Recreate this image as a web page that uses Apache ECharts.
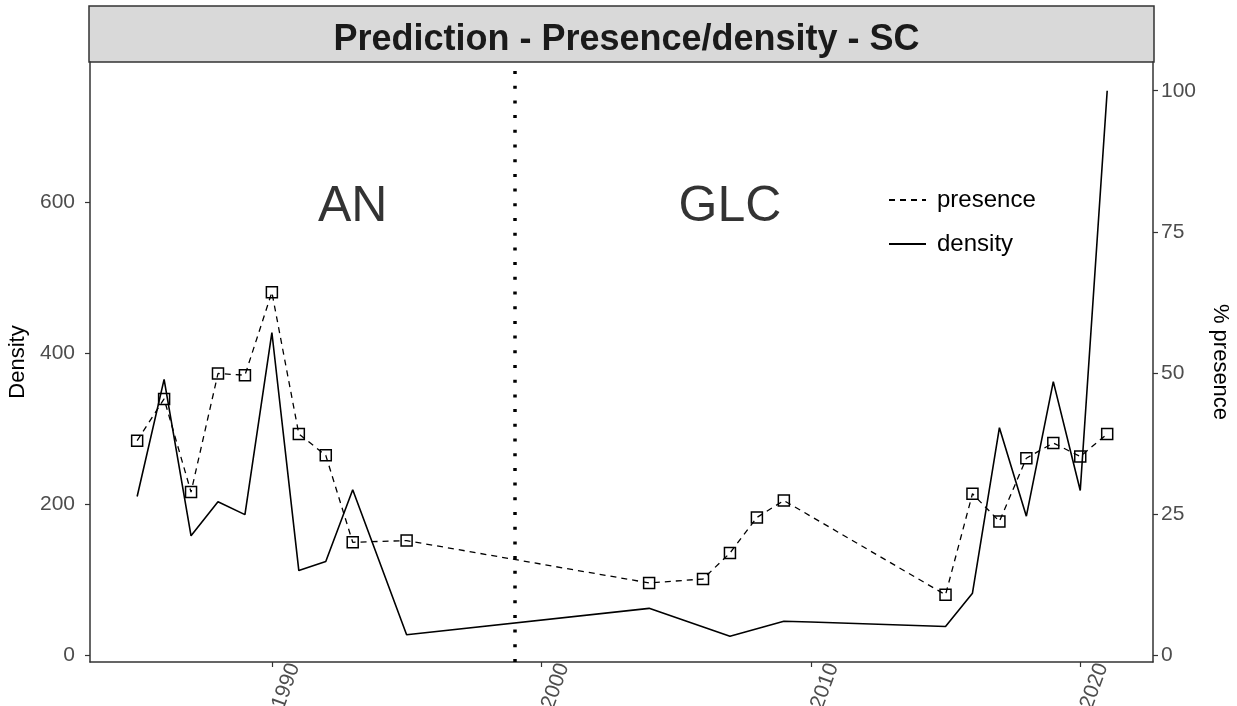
<!DOCTYPE html>
<html>
<head>
<meta charset="utf-8">
<title>Prediction - Presence/density - SC</title>
<script src="https://cdn.jsdelivr.net/npm/echarts@6/dist/echarts.min.js"></script>
<style>
  html, body { margin: 0; padding: 0; background: #fff; }
  #chart { width: 1237px; height: 706px; }
</style>
</head>
<body>
<div id="chart"></div>
<script>
// Survey years and values
const presenceYears = [1985, 1986, 1987, 1988, 1989, 1990, 1991, 1992, 1993, 1995,
                       2004, 2006, 2007, 2008, 2009,
                       2015, 2016, 2017, 2018, 2019, 2020, 2021];
const presenceValues = [38.0, 45.4, 28.9, 49.9, 49.6, 64.3, 39.2, 35.4, 20.0, 20.3,
                        12.8, 13.5, 18.1, 24.4, 27.4,
                        10.7, 28.6, 23.7, 34.9, 37.6, 35.2, 39.2];

const densityYears = [1985, 1986, 1987, 1988, 1989, 1990, 1991, 1992, 1993, 1995,
                      2004, 2007, 2009, 2010,
                      2015, 2016, 2017, 2018, 2019, 2020, 2021];
const densityValues = [210, 365, 158, 203, 186, 427, 112, 124, 219, 27,
                       62, 25, 45, 44,
                       38, 82, 301, 184, 362, 218, 747];

// Period annotations and the break between them
const periodLabels = ['AN', 'GLC'];
const periodX = [1993, 2007];
const periodY = [600, 600];
const periodBreak = 1999;

// Tick labels
const xTicks = [1990, 2000, 2010, 2020];
const densityTicks = [0, 200, 400, 600];
const presenceTicks = [0, 25, 50, 75, 100];

// Secondary axis: 100 % presence corresponds to the maximum density
const scaleK = Math.max(...densityValues) / 100;
const leftMin = -9, leftMax = 785;

const FONT = "'Liberation Sans', Arial, sans-serif";
const AXIS_COL = '#333333';
const TICK_TXT = '#4D4D4D';

const presenceData = presenceYears.map((y, i) => [y, presenceValues[i]]);
const densityData = densityYears.map((y, i) => [y, densityValues[i]]);
const periodData = periodLabels.map((t, i) => [periodX[i], periodY[i], t]);

const chart = echarts.init(document.getElementById('chart'), null, { renderer: 'canvas' });

chart.setOption({
  animation: false,
  backgroundColor: '#ffffff',
  textStyle: { fontFamily: FONT },
  graphic: [{
    type: 'rect',
    z: 0,
    shape: { x: 89, y: 6, width: 1065, height: 56 },
    style: { fill: '#D9D9D9', stroke: '#333333', lineWidth: 1.5 }
  }],
  title: {
    text: 'Prediction - Presence/density - SC',
    left: 621.5,
    top: 17,
    textAlign: 'center',
    z: 10,
    textStyle: { fontFamily: FONT, fontSize: 36, fontWeight: 'bold', color: '#1A1A1A' }
  },
  legend: {
    orient: 'vertical',
    left: 883,
    top: 183,
    itemWidth: 37,
    itemHeight: 14,
    itemGap: 20,
    itemStyle: { opacity: 0 },
    textStyle: { fontFamily: FONT, fontSize: 24, color: '#000', padding: [0, 0, 0, 6] },
    data: ['presence', 'density']
  },
  grid: { left: 90, right: 84, top: 62, bottom: 44, containLabel: false, outerBoundsMode: 'none' },
  xAxis: {
    type: 'value',
    min: 1983.25,
    max: 2022.7,
    splitLine: { show: false },
    axisLine: { show: true, onZero: false, lineStyle: { color: AXIS_COL, width: 1.5 } },
    axisTick: { show: true, length: 5, customValues: xTicks, lineStyle: { color: AXIS_COL, width: 1.2 } },
    axisLabel: {
      customValues: xTicks,
      rotate: 70,
      fontSize: 21,
      color: TICK_TXT,
      fontFamily: FONT,
      margin: -6,
      verticalAlign: 'top',
      padding: [13, 0, 0, 0],
      formatter: v => String(v)
    }
  },
  yAxis: [{
    type: 'value',
    min: leftMin,
    max: leftMax,
    name: 'Density',
    nameLocation: 'middle',
    nameGap: 58,
    nameTextStyle: { fontFamily: FONT, fontSize: 22, color: '#000' },
    splitLine: { show: false },
    axisLine: { show: true, onZero: false, lineStyle: { color: AXIS_COL, width: 1.5 } },
    axisTick: { show: true, length: 5, customValues: densityTicks, lineStyle: { color: AXIS_COL, width: 1.2 } },
    axisLabel: { customValues: densityTicks, fontSize: 21, color: TICK_TXT, fontFamily: FONT, margin: 15 }
  }, {
    type: 'value',
    position: 'right',
    min: leftMin / scaleK,
    max: leftMax / scaleK,
    name: '% presence',
    nameLocation: 'middle',
    nameGap: 56,
    nameRotate: -90,
    nameTextStyle: { fontFamily: FONT, fontSize: 22, color: '#000' },
    splitLine: { show: false },
    axisLine: { show: true, onZero: false, lineStyle: { color: AXIS_COL, width: 1.5 } },
    axisTick: { show: true, length: 5, customValues: presenceTicks, lineStyle: { color: AXIS_COL, width: 1.2 } },
    axisLabel: { customValues: presenceTicks, fontSize: 21, color: TICK_TXT, fontFamily: FONT, margin: 8 }
  }],
  series: [{
    name: 'presence',
    type: 'line',
    yAxisIndex: 1,
    data: presenceData,
    symbol: 'rect',
    symbolSize: 11,
    showSymbol: true,
    lineStyle: { color: '#000', width: 1.3, type: [6, 5] },
    itemStyle: { color: 'rgba(0,0,0,0)', borderColor: '#000', borderWidth: 1.5 },
    z: 3
  }, {
    name: 'density',
    type: 'line',
    yAxisIndex: 0,
    data: densityData,
    symbol: 'none',
    lineStyle: { color: '#000', width: 1.6, type: 'solid' },
    itemStyle: { color: '#000' },
    markLine: {
      silent: true,
      symbol: ['none', 'none'],
      label: { show: false },
      lineStyle: { color: '#000', width: 3.5, type: [3, 11.7] },
      data: [{ xAxis: periodBreak }]
    },
    z: 2
  }, {
    name: 'period',
    type: 'scatter',
    yAxisIndex: 0,
    data: periodData,
    symbolSize: 0,
    silent: true,
    label: {
      show: true,
      position: 'inside',
      offset: [0, 5],
      formatter: p => p.value[2],
      fontFamily: FONT,
      fontSize: 50,
      color: '#000'
    }
  }]
});
</script>
</body>
</html>
